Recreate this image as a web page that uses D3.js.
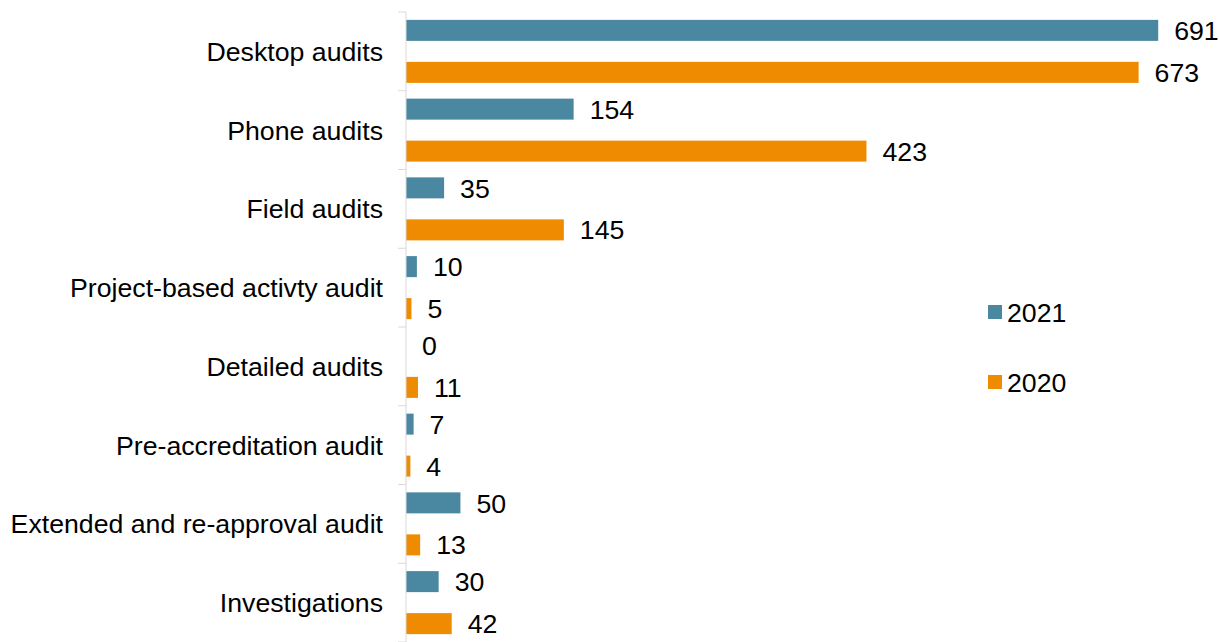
<!DOCTYPE html>
<html>
<head>
<meta charset="utf-8">
<script src="https://cdn.jsdelivr.net/npm/d3@7"></script>
<style>
  html, body { margin: 0; padding: 0; background: #ffffff; }
  text { font-family: "Liberation Sans", Arial, sans-serif; fill: #000; }
</style>
</head>
<body>
<svg id="chart" width="1219" height="642"></svg>
<script>
// Audit counts by type, 2021 vs 2020
const categories = [
  "Desktop audits",
  "Phone audits",
  "Field audits",
  "Project-based activty audit",
  "Detailed audits",
  "Pre-accreditation audit",
  "Extended and re-approval audit",
  "Investigations"
];
const seriesNames = ["2021", "2020"];
const values2021 = [691, 154, 35, 10, 0, 7, 50, 30];
const values2020 = [673, 423, 145, 5, 11, 4, 13, 42];
const seriesColors = ["#4a87a1", "#ee8b00"];

const rows = categories.map((c, i) => ({
  category: c,
  values: [
    { series: seriesNames[0], value: values2021[i] },
    { series: seriesNames[1], value: values2020[i] }
  ]
}));

const svg = d3.select("#chart");
const axisX = 406;
const fontSize = 26.7;

const y0 = d3.scaleBand()
  .domain(categories)
  .range([12, 642])
  .paddingInner(0.2)
  .paddingOuter(0.1);

const y1 = d3.scaleBand()
  .domain(seriesNames)
  .range([0, y0.bandwidth()])
  .paddingInner(0.5);

const x = d3.scaleLinear()
  .domain([0, 700])
  .range([axisX, 1168]);

const color = d3.scaleOrdinal().domain(seriesNames).range(seriesColors);

// Bars and value labels
const groups = svg.append("g")
  .selectAll("g")
  .data(rows)
  .join("g")
  .attr("transform", d => `translate(0,${y0(d.category)})`);

groups.selectAll("rect")
  .data(d => d.values)
  .join("rect")
  .attr("x", x(0))
  .attr("y", d => y1(d.series))
  .attr("width", d => x(d.value) - x(0))
  .attr("height", y1.bandwidth())
  .attr("fill", d => color(d.series));

groups.selectAll("text.value")
  .data(d => d.values)
  .join("text")
  .attr("class", "value")
  .attr("x", d => x(d.value) + 16)
  .attr("y", d => y1(d.series) + y1.bandwidth() / 2)
  .attr("dy", "0.36em")
  .style("font-size", fontSize + "px")
  .text(d => d.value);

// Category axis on the left
const yStep = y0.step();
const axisG = svg.append("g");
axisG.append("line")
  .attr("x1", axisX).attr("x2", axisX)
  .attr("y1", 12).attr("y2", 642)
  .attr("stroke", "#d9d9d9").attr("stroke-width", 1);

const boundaries = d3.range(categories.length + 1).map(i => 12 + i * yStep);
axisG.selectAll("line.tick")
  .data(boundaries)
  .join("line")
  .attr("class", "tick")
  .attr("x1", axisX - 8).attr("x2", axisX)
  .attr("y1", d => d).attr("y2", d => d)
  .attr("stroke", "#d9d9d9").attr("stroke-width", 1);

axisG.selectAll("text.cat")
  .data(categories)
  .join("text")
  .attr("class", "cat")
  .attr("x", 383)
  .attr("y", d => y0(d) + y0.bandwidth() / 2)
  .attr("dy", "0.36em")
  .attr("text-anchor", "end")
  .style("font-size", fontSize + "px")
  .text(d => d);

// Legend
const legend = svg.append("g")
  .selectAll("g")
  .data(seriesNames)
  .join("g")
  .attr("transform", (d, i) => `translate(988,${312 + i * 70})`);

legend.append("rect")
  .attr("x", 0).attr("y", -7)
  .attr("width", 14).attr("height", 14)
  .attr("fill", d => color(d));

legend.append("text")
  .attr("x", 19)
  .attr("y", 0)
  .attr("dy", "0.36em")
  .style("font-size", fontSize + "px")
  .text(d => d);
</script>
</body>
</html>
